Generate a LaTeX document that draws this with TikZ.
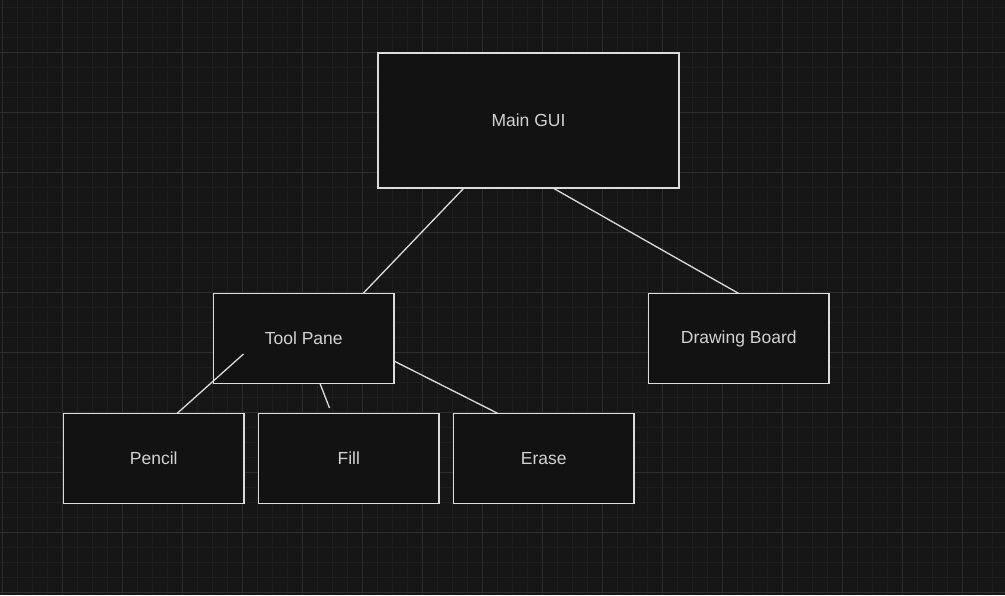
\documentclass[tikz,border=0pt]{standalone}
\usepackage{fontspec}
\setmainfont{Liberation Sans}
\usepackage{xcolor}
\usepackage{tikz}
\usetikzlibrary{positioning}

\definecolor{bgdark}{HTML}{161616}
\definecolor{boxdark}{HTML}{121212}
\definecolor{gridminor}{HTML}{1E1E1E}
\definecolor{gridmajor}{HTML}{2D2D2D}
\definecolor{edgelight}{HTML}{DCDCDC}
\definecolor{textlight}{HTML}{D2D2D2}

\begin{document}
\begin{tikzpicture}[x=1pt, y=-1pt, thick,
    block/.style={draw=edgelight, fill=boxdark, line width=1.4pt, rectangle, outer sep=0pt,
        minimum width=180.5pt, minimum height=90pt, text=textlight, font=\fontsize{17.5}{20}\selectfont},
    link/.style={draw=edgelight, line width=1.3pt}]
    \useasboundingbox (0,0) rectangle (1005,595);
    \fill[bgdark] (0,0) rectangle (1005,595);

    % background grid
    \foreach \gx in {0,...,66}
        \draw[gridminor, line width=1pt] (2.5+15*\gx,0) -- (2.5+15*\gx,595);
    \foreach \gy in {0,...,39}
        \draw[gridminor, line width=1pt] (0,7+15*\gy) -- (1005,7+15*\gy);
    \foreach \gx in {0,...,16}
        \draw[gridmajor, line width=1pt] (2.5+60*\gx,0) -- (2.5+60*\gx,595);
    \foreach \gy in {0,...,9}
        \draw[gridmajor, line width=1pt] (0,52+60*\gy) -- (1005,52+60*\gy);

    \node[block, minimum width=301pt, minimum height=135pt] (main) at (528.5,120.5) {Main GUI};
    \node[block] (tool) at (303.75,338.5) {Tool Pane};
    \node[block] (board) at (738.75,338.5) {Drawing Board};
    \node[block] (pencil) at (153.75,458.5) {Pencil};
    \node[block, right=14.5pt of pencil] (fill) {Fill};
    \node[block, right=14.5pt of fill] (erase) {Erase};

    \coordinate (pencilend) at (243.5,354);
    \coordinate (fillend) at (329.5,408);

    % links from the main window
    \draw[link] ([xshift=-64.5pt]main.south) -- ([xshift=59.25pt]tool.north);
    \draw[link] ([xshift=24.5pt]main.south) -- (board.north);

    % links round the tool pane
    \draw[link] ([xshift=23.25pt]pencil.north) -- (pencilend);
    \draw[link] ([xshift=16.25pt]tool.south) -- (fillend);
    \draw[link] ([yshift=-22.5pt]tool.east) -- ([xshift=-45.75pt]erase.north);
\end{tikzpicture}
\end{document}
